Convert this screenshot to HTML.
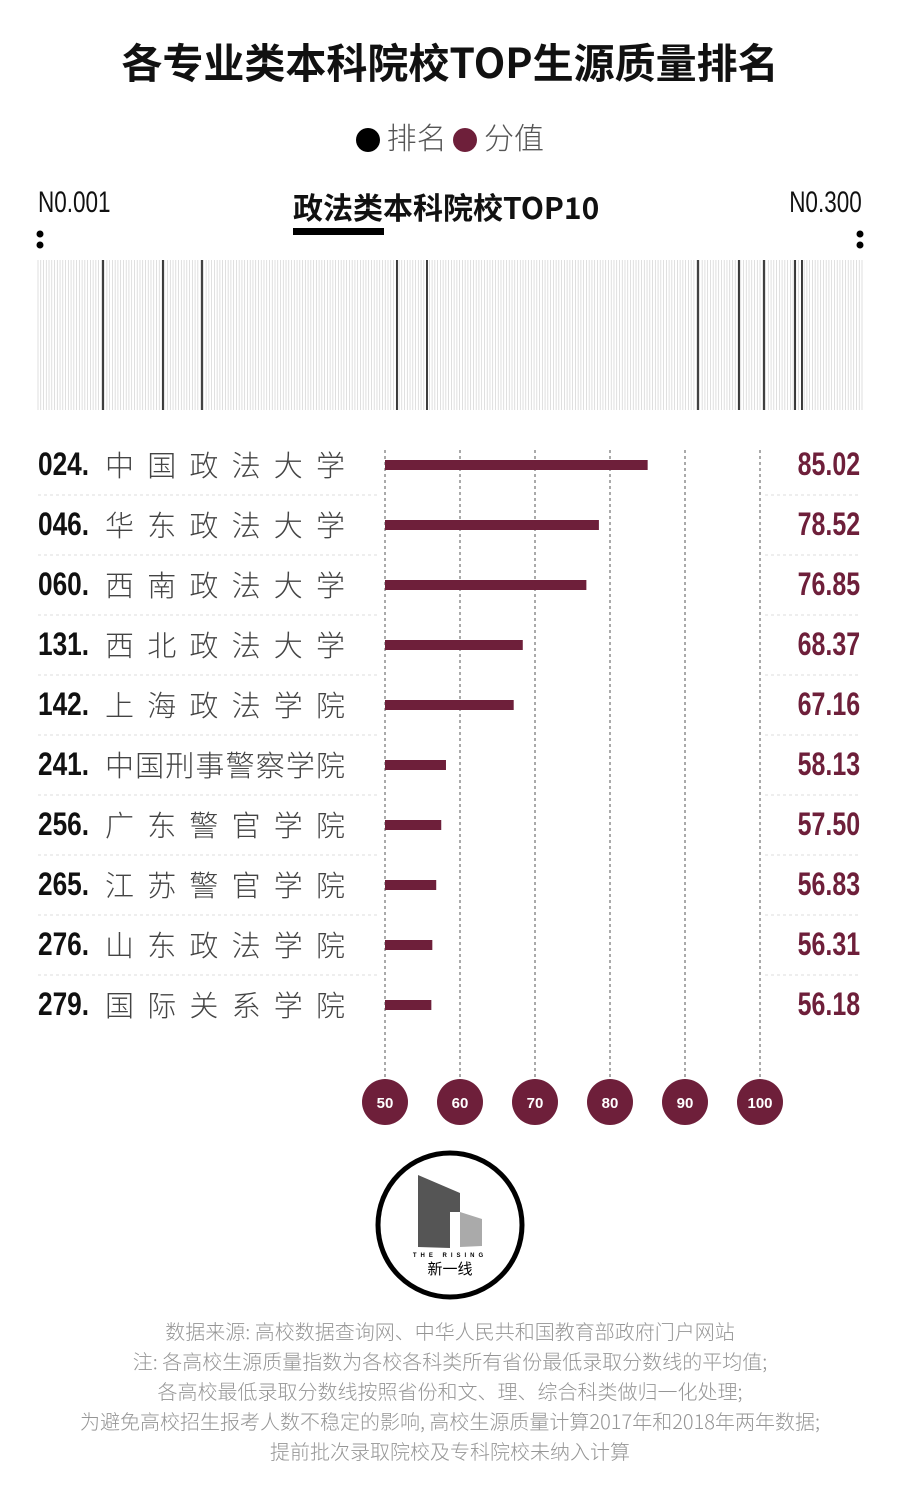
<!DOCTYPE html>
<html><head><meta charset="utf-8"><style>
body{margin:0;width:900px;height:1500px;background:#fff;position:relative;overflow:hidden;font-family:"Liberation Sans","Noto Sans CJK SC",sans-serif}
.a{position:absolute}
.cond{font-family:"Liberation Sans Narrow","Liberation Sans","Noto Sans CJK SC",sans-serif;font-weight:bold;display:inline-block;transform-origin:left center}
.name{position:absolute;left:105px;width:240px;display:flex;justify-content:space-between;font-family:"Noto Sans CJK SC",sans-serif;font-weight:300;font-size:29px;color:#444;line-height:40px}
.rank{position:absolute;left:38px;font-size:32px;color:#111;line-height:40px}
.val{position:absolute;right:40px;font-size:32px;color:#6e1f3a;line-height:40px;text-align:right}
.foot{position:absolute;left:0;width:900px;text-align:center;font-size:20px;color:#959595;font-family:"Noto Sans CJK SC",sans-serif;font-weight:300}
</style></head><body>
<div class="a" style="left:0;top:30px;width:900px;text-align:center;font-size:41px;font-weight:bold;color:#111;font-family:'Noto Sans CJK SC',sans-serif">各专业类本科院校TOP生源质量排名</div>
<div class="a" style="left:0;top:114px;width:900px;text-align:center;font-size:30px;color:#555;font-family:'Noto Sans CJK SC',sans-serif;font-weight:300"><span style="display:inline-block;width:24px;height:24px;border-radius:50%;background:#000;vertical-align:-3px"></span> 排名 <span style="display:inline-block;width:24px;height:24px;border-radius:50%;background:#6e1f3a;vertical-align:-3px"></span> 分值</div>
<div class="a" style="left:38px;top:186px;font-size:30px;color:#111;font-family:'Liberation Sans Narrow','Liberation Sans',sans-serif;transform:scaleX(0.75);transform-origin:left">N0.001</div>
<div class="a" style="right:38px;top:186px;font-size:30px;color:#111;font-family:'Liberation Sans Narrow','Liberation Sans',sans-serif;transform:scaleX(0.75);transform-origin:right">N0.300</div>
<div class="a" style="left:293px;top:186px;font-size:30px;font-weight:bold;color:#111;font-family:'Noto Sans CJK SC',sans-serif;line-height:40px">政法类本科院校TOP10</div>
<div class="a" style="left:293px;top:228px;width:91px;height:7px;background:#000"></div>
<svg class="a" style="left:0;top:0" width="900" height="1500">
<circle cx="40" cy="234" r="3.5" fill="#000"/><circle cx="40" cy="245" r="3.5" fill="#000"/>
<circle cx="860" cy="234" r="3.5" fill="#000"/><circle cx="860" cy="245" r="3.5" fill="#000"/>
<g id="bc" stroke="#d2d2d2" stroke-width="0.7"></g>
<g stroke="#111" stroke-width="1.6">
<line x1="103" y1="260" x2="103" y2="410"/><line x1="163" y1="260" x2="163" y2="410"/><line x1="202" y1="260" x2="202" y2="410"/><line x1="397" y1="260" x2="397" y2="410"/><line x1="427" y1="260" x2="427" y2="410"/><line x1="698" y1="260" x2="698" y2="410"/><line x1="739" y1="260" x2="739" y2="410"/><line x1="764" y1="260" x2="764" y2="410"/><line x1="795" y1="260" x2="795" y2="410"/><line x1="802" y1="260" x2="802" y2="410"/>
</g>
<g stroke="#555" stroke-width="1" stroke-dasharray="3,3">
<line x1="385" y1="450" x2="385" y2="1085"/><line x1="460" y1="450" x2="460" y2="1085"/><line x1="535" y1="450" x2="535" y2="1085"/><line x1="610" y1="450" x2="610" y2="1085"/><line x1="685" y1="450" x2="685" y2="1085"/><line x1="760" y1="450" x2="760" y2="1085"/>
</g>
<g id="seps" stroke="#ddd" stroke-width="1" stroke-dasharray="3,3"></g>
<g fill="#6e1f3a" id="bars"></g>
<g font-family="Liberation Sans Narrow,Liberation Sans,sans-serif" font-weight="bold" font-size="15" fill="#fff" text-anchor="middle">
<circle cx="385" cy="1102" r="23" fill="#6e1f3a"/><text x="385" y="1108">50</text>
<circle cx="460" cy="1102" r="23" fill="#6e1f3a"/><text x="460" y="1108">60</text>
<circle cx="535" cy="1102" r="23" fill="#6e1f3a"/><text x="535" y="1108">70</text>
<circle cx="610" cy="1102" r="23" fill="#6e1f3a"/><text x="610" y="1108">80</text>
<circle cx="685" cy="1102" r="23" fill="#6e1f3a"/><text x="685" y="1108">90</text>
<circle cx="760" cy="1102" r="23" fill="#6e1f3a"/><text x="760" y="1108">100</text>
</g>
<circle cx="450" cy="1225" r="72" fill="none" stroke="#000" stroke-width="5"/>
<polygon points="418,1175 460,1193 460,1212 450,1212 450,1248 418,1247" fill="#555"/>
<polygon points="460,1212 482,1219 482,1246 460,1247" fill="#aaa"/>
<text x="450" y="1257" font-size="6" font-weight="bold" text-anchor="middle" letter-spacing="4">THE RISING</text>
<text x="450" y="1274" font-size="15" text-anchor="middle" font-family="Noto Sans CJK SC,sans-serif">新一线</text>
</svg>
<div id="rows"></div>
<div class="foot" style="top:1316px">数据来源: 高校数据查询网、中华人民共和国教育部政府门户网站</div>
<div class="foot" style="top:1346px">注: 各高校生源质量指数为各校各科类所有省份最低录取分数线的平均值;</div>
<div class="foot" style="top:1376px">各高校最低录取分数线按照省份和文、理、综合科类做归一化处理;</div>
<div class="foot" style="top:1406px">为避免高校招生报考人数不稳定的影响, 高校生源质量计算2017年和2018年两年数据;</div>
<div class="foot" style="top:1436px">提前批次录取院校及专科院校未纳入计算</div>
<script>
var ns="http://www.w3.org/2000/svg",bc=document.getElementById("bc");
for(var i=0;i<300;i++){var x=38+i*824/299;var l=document.createElementNS(ns,"line");l.setAttribute("x1",x);l.setAttribute("x2",x);l.setAttribute("y1",260);l.setAttribute("y2",410);bc.appendChild(l);}
var d=[["024","中国政法大学",85.02],["046","华东政法大学",78.52],["060","西南政法大学",76.85],["131","西北政法大学",68.37],["142","上海政法学院",67.16],["241","中国刑事警察学院",58.13],["256","广东警官学院",57.50],["265","江苏警官学院",56.83],["276","山东政法学院",56.31],["279","国际关系学院",56.18]];
var h="",bars=document.getElementById("bars"),seps=document.getElementById("seps");
d.forEach(function(r,i){var y=465+i*60;
h+='<div class="rank" style="top:'+(y-21)+'px"><span class="cond" style="transform:scaleX(0.82)">'+r[0]+'.</span></div>';
h+='<div class="name" style="top:'+(y-21)+'px">'+r[1].split("").map(function(c){return"<span>"+c+"</span>"}).join("")+'</div>';
h+='<div class="val" style="top:'+(y-21)+'px"><span class="cond" style="transform:scaleX(0.78);transform-origin:right center">'+r[2].toFixed(2)+'</span></div>';
var b=document.createElementNS(ns,"rect");b.setAttribute("x",385);b.setAttribute("y",y-5);b.setAttribute("height",10);b.setAttribute("width",(r[2]-50)*7.5);bars.appendChild(b);
if(i<9){[[38,380],[765,860]].forEach(function(s){var l=document.createElementNS(ns,"line");l.setAttribute("x1",s[0]);l.setAttribute("x2",s[1]);l.setAttribute("y1",y+30);l.setAttribute("y2",y+30);seps.appendChild(l);});}
});
document.getElementById("rows").innerHTML=h;
</script>
</body></html>
